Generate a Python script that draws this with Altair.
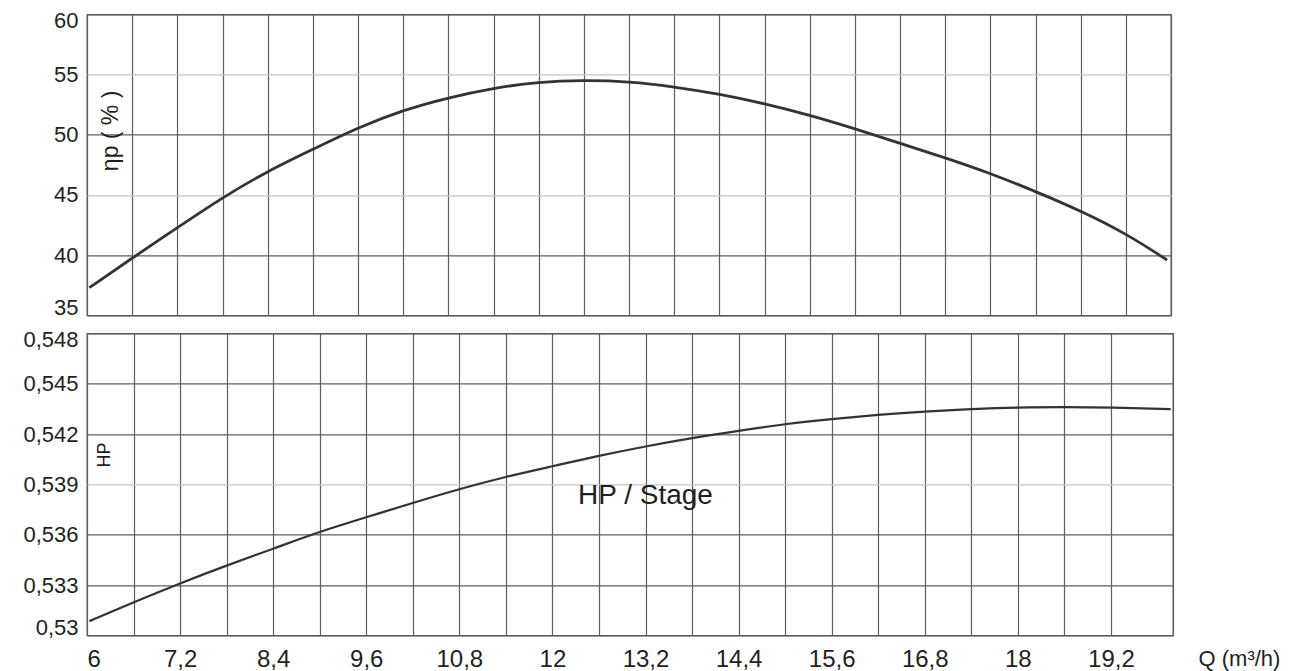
import altair as alt
import pandas as pd

# ---- data ----
q_eff = [6.03, 6.58, 7.17, 7.75, 8.33, 8.92, 9.5, 10.08, 10.67, 11.25, 11.83, 12.42, 13.0,
         13.58, 14.17, 14.75, 15.33, 15.92, 16.5, 17.08, 17.67, 18.25, 18.83, 19.42, 19.95]
eff = [37.3, 39.75, 42.3, 44.8, 46.97, 48.8, 50.6, 52.05, 53.1, 53.88, 54.4, 54.54, 54.43,
       54.0, 53.38, 52.6, 51.64, 50.5, 49.3, 48.1, 46.8, 45.3, 43.7, 41.8, 39.6]

q_hp = [6.03, 6.6, 7.2, 7.8, 8.4, 9.0, 9.6, 10.2, 10.8, 11.4, 12.0, 12.6, 13.2, 13.8, 14.4,
        15.0, 15.6, 16.2, 16.8, 17.4, 18.0, 18.6, 19.2, 19.97]
hp = [0.53085, 0.53198, 0.53311, 0.53417, 0.53516, 0.53619, 0.53704, 0.5379, 0.53873,
      0.53946, 0.54008, 0.54071, 0.54127, 0.54177, 0.5422, 0.5426, 0.5429, 0.54315,
      0.54335, 0.54349, 0.54359, 0.54361, 0.54359, 0.54349]

# grid / tick positions
top_x_grid = [6.0, 6.5833, 7.1667, 7.75, 8.3333, 8.9167, 9.5, 10.0833, 10.6667, 11.25,
              11.8333, 12.4167, 13.0, 13.5833, 14.1667, 14.75, 15.3333, 15.9167, 16.5,
              17.0833, 17.6667, 18.25, 18.8333, 19.4167, 20.0]
bottom_x_grid = [6.0, 6.6, 7.2, 7.8, 8.4, 9.0, 9.6, 10.2, 10.8, 11.4, 12.0, 12.6, 13.2,
                 13.8, 14.4, 15.0, 15.6, 16.2, 16.8, 17.4, 18.0, 18.6, 19.2, 20.0]
eff_ticks = [35, 40, 45, 50, 55, 60]
hp_ticks = [0.53, 0.533, 0.536, 0.539, 0.542, 0.545, 0.548]

FONT = "Liberation Sans"
INK = "#231f20"
GRID = "#5e5e5e"
LIGHT = "#c4c4c4"

eff_df = pd.DataFrame({"Q": q_eff, "eff": eff})
hp_df = pd.DataFrame({"Q": q_hp, "hp": hp})
note_df = pd.DataFrame({"Q": [13.2], "hp": [0.5383], "txt": ["HP / Stage"]})

x_top = alt.X(
    "Q:Q",
    scale=alt.Scale(domain=[6, 20], nice=False, zero=False),
    axis=alt.Axis(values=top_x_grid, labels=False, ticks=False, domain=False, title=None,
                  grid=True, gridColor=GRID, gridWidth=1.2, minExtent=0, maxExtent=0),
)

y_top = alt.Y(
    "eff:Q",
    scale=alt.Scale(domain=[35, 60], nice=False, zero=False),
    axis=alt.Axis(
        values=eff_ticks, ticks=False, domain=False, grid=True, gridWidth=1.2,
        gridColor={"condition": {"test": "datum.value === 55 || datum.value === 45",
                                 "value": LIGHT}, "value": GRID},
        labelFontSize=22, labelPadding=9, labelFlush=True, labelFlushOffset=4,
        minExtent=73, maxExtent=73,
        title="ηp ( % )", titleAngle=270, titleX=30, titleY=116, titleAlign="center",
        titleBaseline="alphabetic", titleFontSize=23, titleFontWeight="normal",
    ),
)

top = alt.Chart(eff_df).mark_line(color="#333333", strokeWidth=2.8, interpolate="basis").encode(
    x=x_top, y=y_top
).properties(width=1084, height=301)

x_bot = alt.X(
    "Q:Q",
    scale=alt.Scale(domain=[6, 20], nice=False, zero=False),
    axis=alt.Axis(
        values=bottom_x_grid, ticks=False, domain=False, grid=True, gridColor=GRID, gridWidth=1.2,
        labelExpr="(round(datum.value*10) % 12 == 0 && datum.value < 19.9) ? replace(format(datum.value, '.1~f'), '.', ',') : ''",
        labelFontSize=24, labelPadding=12,
        title="Q (m³/h)", titleX=1152, titleY=23, titleAlign="center", titleBaseline="middle",
        titleFontSize=22, titleFontWeight="normal",
    ),
)

y_bot = alt.Y(
    "hp:Q",
    scale=alt.Scale(domain=[0.53, 0.548], nice=False, zero=False),
    axis=alt.Axis(
        values=hp_ticks, ticks=False, domain=False, grid=True, gridWidth=1.2,
        gridColor={"condition": {"test": "abs(datum.value - 0.539) < 0.0001",
                                 "value": LIGHT}, "value": GRID},
        labelExpr="replace(format(datum.value, '.3~f'), '.', ',')",
        labelFontSize=22, labelPadding=9, labelFlush=True, labelFlushOffset=4,
        minExtent=73, maxExtent=73,
        title="HP", titleAngle=270, titleX=22, titleY=121, titleAlign="center",
        titleBaseline="alphabetic", titleFontSize=18, titleFontWeight="normal",
    ),
)

hp_line = alt.Chart(hp_df).mark_line(color="#333333", strokeWidth=2.2, interpolate="basis").encode(
    x=x_bot, y=y_bot
)
hp_note = alt.Chart(note_df).mark_text(
    font=FONT, fontSize=28, color=INK, baseline="middle", align="center"
).encode(x="Q:Q", y="hp:Q", text="txt:N")

bottom = alt.layer(hp_line, hp_note).properties(width=1086, height=302)

chart = alt.vconcat(top, bottom, spacing=8).properties(
    padding={"left": 5, "top": 0.4, "right": 0, "bottom": 0}
).configure(
    font=FONT,
).configure_axis(
    labelFont=FONT, titleFont=FONT, labelColor=INK, titleColor=INK,
).configure_view(
    stroke="#555555", strokeWidth=1.3,
)

chart.save("out.html", embed_options={"renderer": "svg", "actions": False})
